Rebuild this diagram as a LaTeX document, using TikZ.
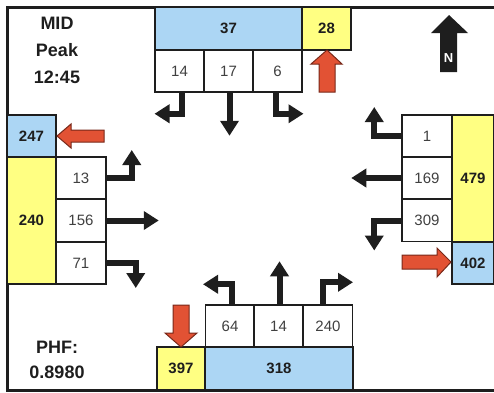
\documentclass[tikz,border=0pt]{standalone}
\usepackage{fontspec}
\setmainfont{Liberation Sans}
\usetikzlibrary{arrows.meta}
\definecolor{lblue}{RGB}{172,214,244}
\definecolor{lyellow}{RGB}{255,255,130}
\definecolor{redfill}{RGB}{226,82,52}
\definecolor{redline}{RGB}{120,40,25}
\definecolor{ink}{RGB}{30,30,30}
\tikzset{
  cell/.style={draw=ink, line width=1.5pt, inner sep=0pt, minimum width=49pt, minimum height=42pt,
    font=\fontsize{15}{15}\selectfont, text=black!75, fill=white},
  bluecell/.style={cell, fill=lblue, font=\fontsize{15}{15}\selectfont\bfseries, text=ink},
  yelcell/.style={cell, fill=lyellow, font=\fontsize{15}{15}\selectfont\bfseries, text=ink},
  blk/.style={draw=ink, line width=6pt, line join=miter, -{Triangle[width=18pt,length=15pt]}},
  redarrow/.style={fill=redfill, draw=redline, line width=1pt, line join=miter},
  title/.style={font=\fontsize{18}{18}\selectfont\bfseries, text=ink}
}
\begin{document}
\begin{tikzpicture}[x=1pt,y=-1pt]
\useasboundingbox (0,0) rectangle (494,392);
% frame
\draw[ink, line width=3pt] (494,7) -- (7,7) -- (7,390) -- (494,390);
% titles
\node[title] (mid) at (57,23) {MID};
\node[title] (peak) at (57,50) {Peak};
\node[title] (time) at (57,77) {12:45};
\node[title] (phf) at (57,347) {PHF:};
\node[title] (phfv) at (57,372) {0.8980};
% North
\node[bluecell, minimum width=147pt, minimum height=43pt] (b37) at (228.5,28.5) {37};
\node[yelcell, minimum height=43pt] (y28) at (326.5,28.5) {28};
\node[cell] (n14) at (179.5,71) {14};
\node[cell] (n17) at (228.5,71) {17};
\node[cell] (n6) at (277.5,71) {6};
% West
\node[bluecell] (b247) at (31.5,136) {247};
\node[yelcell, minimum height=127pt] (y240) at (31.5,220.5) {240};
\node[cell, minimum width=50pt] (n13) at (81,178) {13};
\node[cell, minimum width=50pt] (n156) at (81,220.5) {156};
\node[cell, minimum width=50pt] (n71) at (81,263) {71};
% East
\node[cell, minimum width=50pt] (n1) at (427,136) {1};
\node[cell, minimum width=50pt] (n169) at (427,178) {169};
\node[cell, minimum width=50pt] (n309) at (427,220.5) {309};
\node[yelcell, minimum width=42pt, minimum height=127pt] (y479) at (473,178.5) {479};
\node[bluecell, minimum width=42pt] (b402) at (473,263) {402};
% South
\node[cell] (n64) at (230,326) {64};
\node[cell] (n14s) at (278.5,326) {14};
\node[cell] (n240) at (328,326) {240};
\node[yelcell, minimum width=48pt, minimum height=43pt] (y397) at (181,368.5) {397};
\node[bluecell, minimum width=148pt, minimum height=43pt] (b318) at (279,368.5) {318};
% movement arrows
\draw[blk] ([xshift=2pt]n14.south) -- ++(0,21) -- ++(-27,0);
\draw[blk] ([xshift=1pt]n17.south) -- ++(0,43);
\draw[blk] ([xshift=-2pt]n6.south) -- ++(0,21) -- ++(28,0);
\draw[blk] (n13.east) -- ++(25,0) -- ++(0,-28);
\draw[blk] (n156.east) -- ++(52,0);
\draw[blk] (n71.east) -- ++(29,0) -- ++(0,25);
\draw[blk] (n1.west) -- ++(-27,0) -- ++(0,-29);
\draw[blk] (n169.west) -- ++(-50,0);
\draw[blk] (n309.west) -- ++(-27,0) -- ++(0,30);
\draw[blk] ([xshift=2pt]n64.north) -- ++(0,-20) -- ++(-29,0);
\draw[blk] ([xshift=1pt]n14s.north) -- ++(0,-43);
\draw[blk] ([xshift=-5pt]n240.north) -- ++(0,-22) -- ++(30,0);
% red inflow arrows
\draw[redarrow] (327,50) -- (342,64) -- (335,64) -- (335,92) -- (319,92) -- (319,64) -- (311,64) -- cycle;
\draw[redarrow] (57,136) -- (71,124) -- (71,130) -- (104,130) -- (104,142) -- (71,142) -- (71,148) -- cycle;
\draw[redarrow] (451,262) -- (437,248) -- (437,255) -- (402,255) -- (402,269) -- (437,269) -- (437,277) -- cycle;
\draw[redarrow] (181,347) -- (197,333) -- (189,333) -- (189,305) -- (173,305) -- (173,333) -- (165,333) -- cycle;
% north arrow
\fill[ink] (449,15) -- (468,33) -- (457,33) -- (457,72) -- (440,72) -- (440,33) -- (431,33) -- cycle;
\node[font=\fontsize{13}{13}\selectfont\bfseries, text=white] (north) at (448.5,58) {N};
\end{tikzpicture}
\end{document}
